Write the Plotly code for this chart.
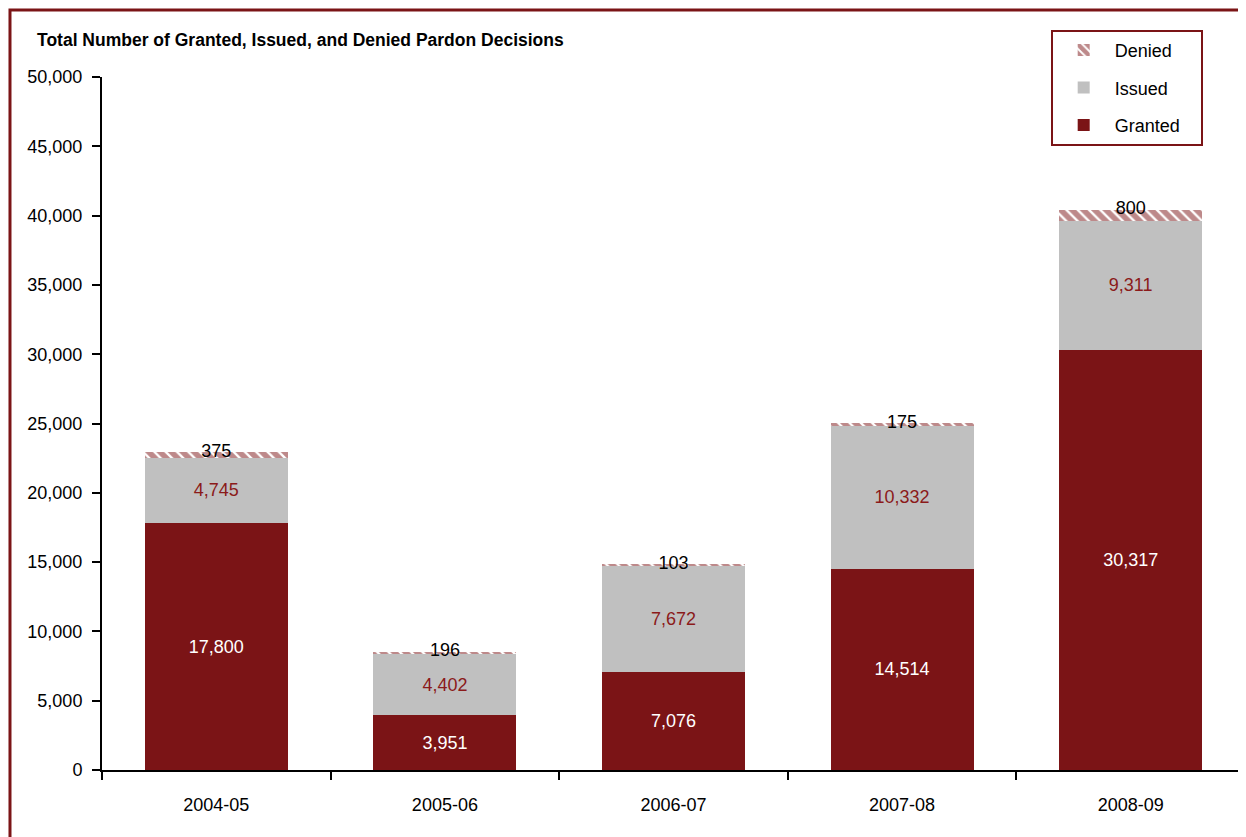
import numpy as np
import plotly.graph_objects as go

# data
years = ['2004-05', '2005-06', '2006-07', '2007-08', '2008-09']
granted = [17800, 3951, 7076, 14514, 30317]
issued = [4745, 4402, 7672, 10332, 9311]
denied = [375, 196, 103, 175, 800]
totals = list(np.array(granted) + np.array(issued) + np.array(denied))

dark_red = '#7B1416'
grey = '#C0C0C0'
font = 'Liberation Sans, Arial, sans-serif'

fig = go.Figure()
fig.add_trace(go.Bar(
    x=years, y=granted, name='Granted\u00a0\u00a0\u00a0', legendgroup='g', legendrank=3,
    marker=dict(color=dark_red, line=dict(width=0)),
    text=[f'{v:,}' for v in granted], textposition='inside',
    insidetextanchor='middle', textangle=0,
    textfont=dict(color='white', size=18, family=font),
))
fig.add_trace(go.Bar(
    x=years, y=issued, name='Issued', legendgroup='i', legendrank=2,
    marker=dict(color=grey, line=dict(width=0)),
    text=[f'{v:,}' for v in issued], textposition='inside',
    insidetextanchor='middle', textangle=0,
    textfont=dict(color='#8B1A1A', size=18, family=font),
))
fig.add_trace(go.Bar(
    x=years, y=denied, name='Denied', legendgroup='d', legendrank=1,
    marker=dict(color='white', line=dict(width=0),
                pattern=dict(shape='\\', fgcolor=dark_red, bgcolor='white',
                             size=8, solidity=0.7)),
))
# denied labels sit on top of each stack
fig.add_trace(go.Scatter(
    x=years, y=totals, mode='text', text=[f'{v:,}' for v in denied],
    textposition='middle center', showlegend=False, hoverinfo='skip',
    textfont=dict(color='black', size=18, family=font),
))

fig.update_layout(
    width=1246, height=837,
    barmode='stack', bargap=0.375,
    plot_bgcolor='white', paper_bgcolor='white',
    margin=dict(l=94, r=9, t=69, b=75),
    font=dict(family=font, size=18, color='black'),
    legend=dict(
        x=0.83, y=1.068, xanchor='left', yanchor='top',
        traceorder='grouped', tracegroupgap=11, itemwidth=52,
        bordercolor=dark_red, borderwidth=2, bgcolor='white',
        font=dict(size=18, family=font),
    ),
    xaxis=dict(
        type='category',
        showline=True, linecolor='black', linewidth=2,
        ticks='outside', ticklen=8, tickwidth=2, tickcolor='black',
        tickson='boundaries', ticklabelstandoff=17,
        showgrid=False,
    ),
    yaxis=dict(
        range=[0, 50000], dtick=5000, tickformat=',',
        showline=True, linecolor='black', linewidth=2,
        ticks='outside', ticklen=8, tickwidth=2, tickcolor='black',
        ticklabelstandoff=6, showgrid=False, zeroline=False,
    ),
    annotations=[dict(
        text='<b>Total Number of Granted, Issued, and Denied Pardon Decisions</b>',
        xref='paper', yref='paper', x=-0.0586, y=1.0534,
        xanchor='left', yanchor='middle', showarrow=False,
        font=dict(size=17.5, family=font, color='black'),
    )],
    shapes=[dict(
        type='rect', xref='paper', yref='paper',
        x0=-0.0805, x1=1.2, y0=-0.3, y1=1.0967,
        line=dict(color=dark_red, width=3), layer='below',
    )],
)

fig.write_html('out.html')
